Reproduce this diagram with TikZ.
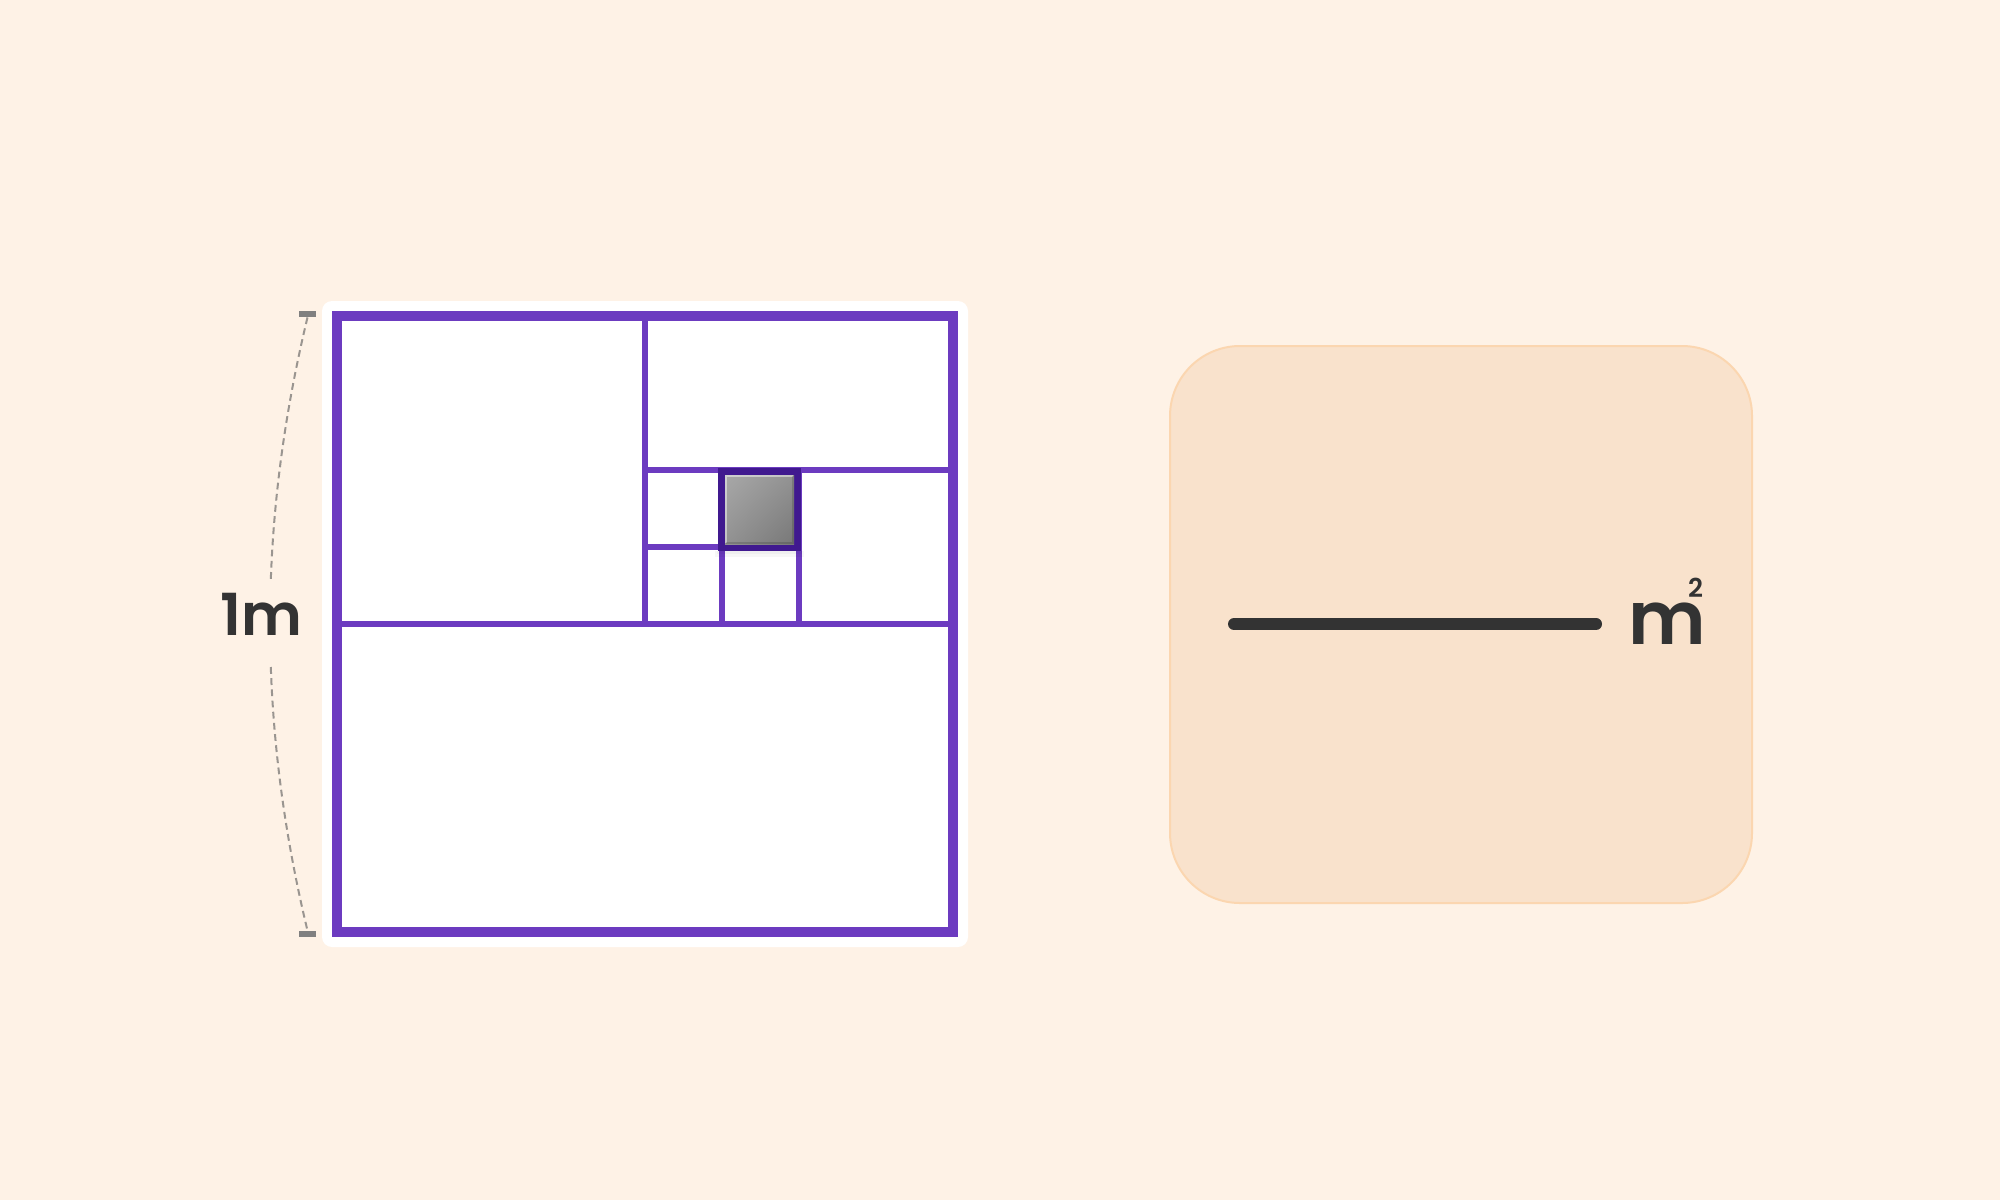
\documentclass[tikz,border=0pt]{standalone}
\usepackage{fontspec}
\usetikzlibrary{shadings}
\newfontfamily\lbl{Poppins SemiBold}
\definecolor{bgc}{HTML}{FEF2E6}
\definecolor{purp}{HTML}{6C3BC0}
\definecolor{dpurp}{HTML}{40198F}
\definecolor{tickc}{HTML}{808080}
\definecolor{dashc}{HTML}{9A9590}
\definecolor{txt}{HTML}{333333}
\definecolor{panelf}{HTML}{F9E2CC}
\definecolor{paneld}{HTML}{FBD6B0}
\definecolor{gul}{HTML}{A8A8A8}
\definecolor{gmid}{HTML}{929292}
\definecolor{glr}{HTML}{787878}
\tikzset{
  gridline/.style={draw=purp, line width=3pt},
  outerline/.style={draw=purp, line width=5pt},
  tickbox/.style={fill=tickc, inner sep=0pt, minimum width=8.5pt, minimum height=3pt},
  dimline/.style={draw=dashc, line width=1pt, dash pattern=on 3.4pt off 2.2pt},
  label/.style={text=txt, inner sep=0pt, font=\lbl\fontsize{29}{34}\selectfont},
}
\begin{document}
\begin{tikzpicture}[x=0.5pt, y=-0.5pt]
\useasboundingbox (0,0) rectangle (2000,1200);
\fill[bgc] (0,0) rectangle (2000,1200);

% card behind the square
\fill[white, rounded corners=5pt] (322,301) rectangle (968,947);

% subdivision lines
\draw[gridline] (337,624) -- (953,624);
\draw[gridline] (645,316) -- (645,624);
\draw[gridline] (645,470) -- (953,470);
\draw[gridline] (799,470) -- (799,624);
\draw[gridline] (645,547) -- (799,547);
\draw[gridline] (722,470) -- (722,624);
% outer border
\draw[outerline] (337,316) rectangle (953,932);

% highlighted small square
\fill[black, opacity=0.03] (715,551) rectangle (804,557);
\fill[black, opacity=0.03] (717,551) rectangle (802,554);
\fill[dpurp] (718,468) rectangle (801,551);
\shade[upper left=gul, upper right=gmid, lower left=gmid, lower right=glr]
  (725,475) rectangle (794,544);
\draw[white, opacity=0.45, line width=1pt] (726,543) -- (726,476) -- (793,476);
\draw[black, opacity=0.15, line width=1pt] (726,543) -- (793,543) -- (793,476);

% dimension marker
\node[tickbox] (tt) at (307.5,314) {};
\node[tickbox] (tb) at (307.5,934) {};
\coordinate (ga) at (270.8,580);
\coordinate (gb) at (270.8,667);
\draw[dimline] (tt.south) .. controls (286.3,405.3) and (273.9,492.7) .. (ga);
\draw[dimline] (gb) .. controls (273.9,755) and (286.3,842.7) .. (tb.north);
\node[label, anchor=base west] (one) at (220,635) {1m};

% right panel
\node[draw=paneld, fill=panelf, line width=1pt, rounded corners=35pt, inner sep=0pt,
      minimum width=291pt, minimum height=278.5pt] (panel) at (1461,624.5) {};
\coordinate (ls) at (1234,624);
\coordinate (le) at (1596,624);
\draw[txt, line width=6pt, line cap=round] (ls) -- (le);
\node[text=txt, inner sep=0pt, anchor=base west, font=\lbl\fontsize{37}{44}\selectfont] (unit) at (1628,644)
  {m\llap{\raisebox{23.5pt}{\fontsize{13}{16}\selectfont 2}\kern1.5pt}};
\end{tikzpicture}
\end{document}
